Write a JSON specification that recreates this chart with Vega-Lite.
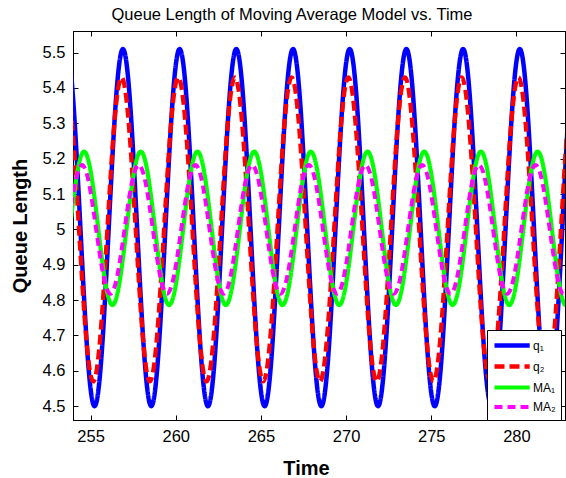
{
"$schema": "https://vega.github.io/schema/vega-lite/v6.json",
"width": 492, "height": 389,
"autosize": {"type": "none"},
"padding": {"left": 73, "top": 31, "right": 1, "bottom": 58},
"background": "white",
"title": {"text": "Queue Length of Moving Average Model vs. Time", "fontSize": 16.5, "font": "Liberation Sans", "fontWeight": "normal", "color": "black", "anchor": "middle", "dx": -27, "dy": 16, "offset": 10, "baseline": "alphabetic"},
"config": {
  "view": {"stroke": "black", "strokeWidth": 1},
  "axis": {"grid": false, "domainColor": "black", "tickColor": "black", "tickSize": -5, "labelFont": "Liberation Sans", "labelFontSize": 16.5, "labelColor": "black", "titleFont": "Liberation Sans", "titleFontSize": 20, "titleFontWeight": "bold", "titleColor": "black"}
},
"data": {"values": [
{"t":253.156,"v":5.362,"s":"q₁"},{"t":253.572,"v":5.51,"s":"q₁"},{"t":253.988,"v":5.362,"s":"q₁"},{"t":254.404,"v":5.005,"s":"q₁"},{"t":254.820,"v":4.648,"s":"q₁"},{"t":255.236,"v":4.5,"s":"q₁"},{"t":255.652,"v":4.648,"s":"q₁"},{"t":256.068,"v":5.005,"s":"q₁"},
{"t":256.484,"v":5.362,"s":"q₁"},{"t":256.900,"v":5.51,"s":"q₁"},{"t":257.316,"v":5.362,"s":"q₁"},{"t":257.732,"v":5.005,"s":"q₁"},{"t":258.148,"v":4.648,"s":"q₁"},{"t":258.564,"v":4.5,"s":"q₁"},{"t":258.980,"v":4.648,"s":"q₁"},{"t":259.396,"v":5.005,"s":"q₁"},
{"t":259.812,"v":5.362,"s":"q₁"},{"t":260.228,"v":5.51,"s":"q₁"},{"t":260.644,"v":5.362,"s":"q₁"},{"t":261.060,"v":5.005,"s":"q₁"},{"t":261.476,"v":4.648,"s":"q₁"},{"t":261.892,"v":4.5,"s":"q₁"},{"t":262.308,"v":4.648,"s":"q₁"},{"t":262.724,"v":5.005,"s":"q₁"},
{"t":263.140,"v":5.362,"s":"q₁"},{"t":263.556,"v":5.51,"s":"q₁"},{"t":263.972,"v":5.362,"s":"q₁"},{"t":264.388,"v":5.005,"s":"q₁"},{"t":264.804,"v":4.648,"s":"q₁"},{"t":265.220,"v":4.5,"s":"q₁"},{"t":265.636,"v":4.648,"s":"q₁"},{"t":266.052,"v":5.005,"s":"q₁"},
{"t":266.468,"v":5.362,"s":"q₁"},{"t":266.884,"v":5.51,"s":"q₁"},{"t":267.300,"v":5.362,"s":"q₁"},{"t":267.716,"v":5.005,"s":"q₁"},{"t":268.132,"v":4.648,"s":"q₁"},{"t":268.548,"v":4.5,"s":"q₁"},{"t":268.964,"v":4.648,"s":"q₁"},{"t":269.380,"v":5.005,"s":"q₁"},
{"t":269.796,"v":5.362,"s":"q₁"},{"t":270.212,"v":5.51,"s":"q₁"},{"t":270.628,"v":5.362,"s":"q₁"},{"t":271.044,"v":5.005,"s":"q₁"},{"t":271.460,"v":4.648,"s":"q₁"},{"t":271.876,"v":4.5,"s":"q₁"},{"t":272.292,"v":4.648,"s":"q₁"},{"t":272.708,"v":5.005,"s":"q₁"},
{"t":273.124,"v":5.362,"s":"q₁"},{"t":273.540,"v":5.51,"s":"q₁"},{"t":273.956,"v":5.362,"s":"q₁"},{"t":274.372,"v":5.005,"s":"q₁"},{"t":274.788,"v":4.648,"s":"q₁"},{"t":275.204,"v":4.5,"s":"q₁"},{"t":275.620,"v":4.648,"s":"q₁"},{"t":276.036,"v":5.005,"s":"q₁"},
{"t":276.452,"v":5.362,"s":"q₁"},{"t":276.868,"v":5.51,"s":"q₁"},{"t":277.284,"v":5.362,"s":"q₁"},{"t":277.700,"v":5.005,"s":"q₁"},{"t":278.116,"v":4.648,"s":"q₁"},{"t":278.532,"v":4.5,"s":"q₁"},{"t":278.948,"v":4.648,"s":"q₁"},{"t":279.364,"v":5.005,"s":"q₁"},
{"t":279.780,"v":5.362,"s":"q₁"},{"t":280.196,"v":5.51,"s":"q₁"},{"t":280.612,"v":5.362,"s":"q₁"},{"t":281.028,"v":5.005,"s":"q₁"},{"t":281.444,"v":4.648,"s":"q₁"},{"t":281.860,"v":4.5,"s":"q₁"},{"t":282.276,"v":4.648,"s":"q₁"},{"t":282.692,"v":5.005,"s":"q₁"},
{"t":283.108,"v":5.362,"s":"q₁"},{"t":283.524,"v":5.51,"s":"q₁"},

{"t":253.076,"v":5.304,"s":"q₂"},{"t":253.492,"v":5.43,"s":"q₂"},{"t":253.908,"v":5.304,"s":"q₂"},{"t":254.324,"v":5.0,"s":"q₂"},{"t":254.740,"v":4.696,"s":"q₂"},{"t":255.156,"v":4.57,"s":"q₂"},{"t":255.572,"v":4.696,"s":"q₂"},{"t":255.988,"v":5.0,"s":"q₂"},
{"t":256.404,"v":5.304,"s":"q₂"},{"t":256.820,"v":5.43,"s":"q₂"},{"t":257.236,"v":5.304,"s":"q₂"},{"t":257.652,"v":5.0,"s":"q₂"},{"t":258.068,"v":4.696,"s":"q₂"},{"t":258.484,"v":4.57,"s":"q₂"},{"t":258.900,"v":4.696,"s":"q₂"},{"t":259.316,"v":5.0,"s":"q₂"},
{"t":259.732,"v":5.304,"s":"q₂"},{"t":260.148,"v":5.43,"s":"q₂"},{"t":260.564,"v":5.304,"s":"q₂"},{"t":260.980,"v":5.0,"s":"q₂"},{"t":261.396,"v":4.696,"s":"q₂"},{"t":261.812,"v":4.57,"s":"q₂"},{"t":262.228,"v":4.696,"s":"q₂"},{"t":262.644,"v":5.0,"s":"q₂"},
{"t":263.060,"v":5.304,"s":"q₂"},{"t":263.476,"v":5.43,"s":"q₂"},{"t":263.892,"v":5.304,"s":"q₂"},{"t":264.308,"v":5.0,"s":"q₂"},{"t":264.724,"v":4.696,"s":"q₂"},{"t":265.140,"v":4.57,"s":"q₂"},{"t":265.556,"v":4.696,"s":"q₂"},{"t":265.972,"v":5.0,"s":"q₂"},
{"t":266.388,"v":5.304,"s":"q₂"},{"t":266.804,"v":5.43,"s":"q₂"},{"t":267.220,"v":5.304,"s":"q₂"},{"t":267.636,"v":5.0,"s":"q₂"},{"t":268.052,"v":4.696,"s":"q₂"},{"t":268.468,"v":4.57,"s":"q₂"},{"t":268.884,"v":4.696,"s":"q₂"},{"t":269.300,"v":5.0,"s":"q₂"},
{"t":269.716,"v":5.304,"s":"q₂"},{"t":270.132,"v":5.43,"s":"q₂"},{"t":270.548,"v":5.304,"s":"q₂"},{"t":270.964,"v":5.0,"s":"q₂"},{"t":271.380,"v":4.696,"s":"q₂"},{"t":271.796,"v":4.57,"s":"q₂"},{"t":272.212,"v":4.696,"s":"q₂"},{"t":272.628,"v":5.0,"s":"q₂"},
{"t":273.044,"v":5.304,"s":"q₂"},{"t":273.460,"v":5.43,"s":"q₂"},{"t":273.876,"v":5.304,"s":"q₂"},{"t":274.292,"v":5.0,"s":"q₂"},{"t":274.708,"v":4.696,"s":"q₂"},{"t":275.124,"v":4.57,"s":"q₂"},{"t":275.540,"v":4.696,"s":"q₂"},{"t":275.956,"v":5.0,"s":"q₂"},
{"t":276.372,"v":5.304,"s":"q₂"},{"t":276.788,"v":5.43,"s":"q₂"},{"t":277.204,"v":5.304,"s":"q₂"},{"t":277.620,"v":5.0,"s":"q₂"},{"t":278.036,"v":4.696,"s":"q₂"},{"t":278.452,"v":4.57,"s":"q₂"},{"t":278.868,"v":4.696,"s":"q₂"},{"t":279.284,"v":5.0,"s":"q₂"},
{"t":279.700,"v":5.304,"s":"q₂"},{"t":280.116,"v":5.43,"s":"q₂"},{"t":280.532,"v":5.304,"s":"q₂"},{"t":280.948,"v":5.0,"s":"q₂"},{"t":281.364,"v":4.696,"s":"q₂"},{"t":281.780,"v":4.57,"s":"q₂"},{"t":282.196,"v":4.696,"s":"q₂"},{"t":282.612,"v":5.0,"s":"q₂"},
{"t":283.028,"v":5.304,"s":"q₂"},{"t":283.444,"v":5.43,"s":"q₂"},

{"t":252.956,"v":4.786,"s":"MA₁"},{"t":253.372,"v":4.85,"s":"MA₁"},{"t":253.788,"v":5.003,"s":"MA₁"},{"t":254.204,"v":5.156,"s":"MA₁"},{"t":254.620,"v":5.22,"s":"MA₁"},{"t":255.036,"v":5.156,"s":"MA₁"},{"t":255.452,"v":5.003,"s":"MA₁"},{"t":255.868,"v":4.85,"s":"MA₁"},
{"t":256.284,"v":4.786,"s":"MA₁"},{"t":256.700,"v":4.85,"s":"MA₁"},{"t":257.116,"v":5.003,"s":"MA₁"},{"t":257.532,"v":5.156,"s":"MA₁"},{"t":257.948,"v":5.22,"s":"MA₁"},{"t":258.364,"v":5.156,"s":"MA₁"},{"t":258.780,"v":5.003,"s":"MA₁"},{"t":259.196,"v":4.85,"s":"MA₁"},
{"t":259.612,"v":4.786,"s":"MA₁"},{"t":260.028,"v":4.85,"s":"MA₁"},{"t":260.444,"v":5.003,"s":"MA₁"},{"t":260.860,"v":5.156,"s":"MA₁"},{"t":261.276,"v":5.22,"s":"MA₁"},{"t":261.692,"v":5.156,"s":"MA₁"},{"t":262.108,"v":5.003,"s":"MA₁"},{"t":262.524,"v":4.85,"s":"MA₁"},
{"t":262.940,"v":4.786,"s":"MA₁"},{"t":263.356,"v":4.85,"s":"MA₁"},{"t":263.772,"v":5.003,"s":"MA₁"},{"t":264.188,"v":5.156,"s":"MA₁"},{"t":264.604,"v":5.22,"s":"MA₁"},{"t":265.020,"v":5.156,"s":"MA₁"},{"t":265.436,"v":5.003,"s":"MA₁"},{"t":265.852,"v":4.85,"s":"MA₁"},
{"t":266.268,"v":4.786,"s":"MA₁"},{"t":266.684,"v":4.85,"s":"MA₁"},{"t":267.100,"v":5.003,"s":"MA₁"},{"t":267.516,"v":5.156,"s":"MA₁"},{"t":267.932,"v":5.22,"s":"MA₁"},{"t":268.348,"v":5.156,"s":"MA₁"},{"t":268.764,"v":5.003,"s":"MA₁"},{"t":269.180,"v":4.85,"s":"MA₁"},
{"t":269.596,"v":4.786,"s":"MA₁"},{"t":270.012,"v":4.85,"s":"MA₁"},{"t":270.428,"v":5.003,"s":"MA₁"},{"t":270.844,"v":5.156,"s":"MA₁"},{"t":271.260,"v":5.22,"s":"MA₁"},{"t":271.676,"v":5.156,"s":"MA₁"},{"t":272.092,"v":5.003,"s":"MA₁"},{"t":272.508,"v":4.85,"s":"MA₁"},
{"t":272.924,"v":4.786,"s":"MA₁"},{"t":273.340,"v":4.85,"s":"MA₁"},{"t":273.756,"v":5.003,"s":"MA₁"},{"t":274.172,"v":5.156,"s":"MA₁"},{"t":274.588,"v":5.22,"s":"MA₁"},{"t":275.004,"v":5.156,"s":"MA₁"},{"t":275.420,"v":5.003,"s":"MA₁"},{"t":275.836,"v":4.85,"s":"MA₁"},
{"t":276.252,"v":4.786,"s":"MA₁"},{"t":276.668,"v":4.85,"s":"MA₁"},{"t":277.084,"v":5.003,"s":"MA₁"},{"t":277.500,"v":5.156,"s":"MA₁"},{"t":277.916,"v":5.22,"s":"MA₁"},{"t":278.332,"v":5.156,"s":"MA₁"},{"t":278.748,"v":5.003,"s":"MA₁"},{"t":279.164,"v":4.85,"s":"MA₁"},
{"t":279.580,"v":4.786,"s":"MA₁"},{"t":279.996,"v":4.85,"s":"MA₁"},{"t":280.412,"v":5.003,"s":"MA₁"},{"t":280.828,"v":5.156,"s":"MA₁"},{"t":281.244,"v":5.22,"s":"MA₁"},{"t":281.660,"v":5.156,"s":"MA₁"},{"t":282.076,"v":5.003,"s":"MA₁"},{"t":282.492,"v":4.85,"s":"MA₁"},
{"t":282.908,"v":4.786,"s":"MA₁"},{"t":283.324,"v":4.85,"s":"MA₁"},

{"t":252.836,"v":4.818,"s":"MA₂"},{"t":253.252,"v":4.871,"s":"MA₂"},{"t":253.668,"v":5.0,"s":"MA₂"},{"t":254.084,"v":5.129,"s":"MA₂"},{"t":254.500,"v":5.182,"s":"MA₂"},{"t":254.916,"v":5.129,"s":"MA₂"},{"t":255.332,"v":5.0,"s":"MA₂"},{"t":255.748,"v":4.871,"s":"MA₂"},
{"t":256.164,"v":4.818,"s":"MA₂"},{"t":256.580,"v":4.871,"s":"MA₂"},{"t":256.996,"v":5.0,"s":"MA₂"},{"t":257.412,"v":5.129,"s":"MA₂"},{"t":257.828,"v":5.182,"s":"MA₂"},{"t":258.244,"v":5.129,"s":"MA₂"},{"t":258.660,"v":5.0,"s":"MA₂"},{"t":259.076,"v":4.871,"s":"MA₂"},
{"t":259.492,"v":4.818,"s":"MA₂"},{"t":259.908,"v":4.871,"s":"MA₂"},{"t":260.324,"v":5.0,"s":"MA₂"},{"t":260.740,"v":5.129,"s":"MA₂"},{"t":261.156,"v":5.182,"s":"MA₂"},{"t":261.572,"v":5.129,"s":"MA₂"},{"t":261.988,"v":5.0,"s":"MA₂"},{"t":262.404,"v":4.871,"s":"MA₂"},
{"t":262.820,"v":4.818,"s":"MA₂"},{"t":263.236,"v":4.871,"s":"MA₂"},{"t":263.652,"v":5.0,"s":"MA₂"},{"t":264.068,"v":5.129,"s":"MA₂"},{"t":264.484,"v":5.182,"s":"MA₂"},{"t":264.900,"v":5.129,"s":"MA₂"},{"t":265.316,"v":5.0,"s":"MA₂"},{"t":265.732,"v":4.871,"s":"MA₂"},
{"t":266.148,"v":4.818,"s":"MA₂"},{"t":266.564,"v":4.871,"s":"MA₂"},{"t":266.980,"v":5.0,"s":"MA₂"},{"t":267.396,"v":5.129,"s":"MA₂"},{"t":267.812,"v":5.182,"s":"MA₂"},{"t":268.228,"v":5.129,"s":"MA₂"},{"t":268.644,"v":5.0,"s":"MA₂"},{"t":269.060,"v":4.871,"s":"MA₂"},
{"t":269.476,"v":4.818,"s":"MA₂"},{"t":269.892,"v":4.871,"s":"MA₂"},{"t":270.308,"v":5.0,"s":"MA₂"},{"t":270.724,"v":5.129,"s":"MA₂"},{"t":271.140,"v":5.182,"s":"MA₂"},{"t":271.556,"v":5.129,"s":"MA₂"},{"t":271.972,"v":5.0,"s":"MA₂"},{"t":272.388,"v":4.871,"s":"MA₂"},
{"t":272.804,"v":4.818,"s":"MA₂"},{"t":273.220,"v":4.871,"s":"MA₂"},{"t":273.636,"v":5.0,"s":"MA₂"},{"t":274.052,"v":5.129,"s":"MA₂"},{"t":274.468,"v":5.182,"s":"MA₂"},{"t":274.884,"v":5.129,"s":"MA₂"},{"t":275.300,"v":5.0,"s":"MA₂"},{"t":275.716,"v":4.871,"s":"MA₂"},
{"t":276.132,"v":4.818,"s":"MA₂"},{"t":276.548,"v":4.871,"s":"MA₂"},{"t":276.964,"v":5.0,"s":"MA₂"},{"t":277.380,"v":5.129,"s":"MA₂"},{"t":277.796,"v":5.182,"s":"MA₂"},{"t":278.212,"v":5.129,"s":"MA₂"},{"t":278.628,"v":5.0,"s":"MA₂"},{"t":279.044,"v":4.871,"s":"MA₂"},
{"t":279.460,"v":4.818,"s":"MA₂"},{"t":279.876,"v":4.871,"s":"MA₂"},{"t":280.292,"v":5.0,"s":"MA₂"},{"t":280.708,"v":5.129,"s":"MA₂"},{"t":281.124,"v":5.182,"s":"MA₂"},{"t":281.540,"v":5.129,"s":"MA₂"},{"t":281.956,"v":5.0,"s":"MA₂"},{"t":282.372,"v":4.871,"s":"MA₂"},
{"t":282.788,"v":4.818,"s":"MA₂"},{"t":283.204,"v":4.871,"s":"MA₂"}
]},
"layer": [
  {
    "mark": {"type": "line", "interpolate": "natural", "clip": true},
    "encoding": {
      "x": {"field": "t", "type": "quantitative", "scale": {"domain": [253.97, 282.85], "nice": false, "zero": false},
            "axis": {"orient": "bottom", "values": [255, 260, 265, 270, 275, 280], "title": "Time", "labelPadding": 13, "titleX": 233, "titleY": 54, "titleBaseline": "alphabetic", "titleAlign": "center", "titleAnchor": null}},
      "y": {"field": "v", "type": "quantitative", "scale": {"domain": [4.461, 5.561], "nice": false, "zero": false},
            "axis": {"orient": "left", "values": [4.5, 4.6, 4.7, 4.8, 4.9, 5, 5.1, 5.2, 5.3, 5.4, 5.5], "format": "~g", "title": "Queue Length", "labelPadding": 13, "titlePadding": 12}},
      "color": {"field": "s", "type": "nominal",
                "scale": {"domain": ["q₁", "q₂", "MA₁", "MA₂"], "range": ["#0000ff", "#ff0000", "#00ff00", "#ff00ff"]},
                "legend": {"title": null, "orient": "none", "legendX": 414, "legendY": 299, "symbolType": "M-1,0H3.4", "symbolSize": 256, "symbolStrokeWidth": 3, "labelFont": "Liberation Sans", "labelFontSize": 12, "labelColor": "black", "labelOffset": 20, "rowPadding": 1, "padding": 5, "strokeColor": "black", "fillColor": "white"}},
      "strokeDash": {"field": "s", "type": "nominal",
                "scale": {"domain": ["q₁", "q₂", "MA₁", "MA₂"], "range": [[1, 0], [10, 5], [1, 0], [8, 5]]},
                "legend": {"title": null, "orient": "none", "legendX": 414, "legendY": 299, "symbolType": "M-1,0H3.4", "symbolSize": 256, "symbolStrokeWidth": 3, "labelFont": "Liberation Sans", "labelFontSize": 12, "labelColor": "black", "labelOffset": 20, "rowPadding": 1, "padding": 5, "strokeColor": "black", "fillColor": "white"}},
      "strokeWidth": {"field": "s", "type": "nominal", "scale": {"domain": ["q₁", "q₂", "MA₁", "MA₂"], "range": [4.5, 4, 3, 4]}, "legend": null}
    }
  },
  {
    "mark": {"type": "line", "opacity": 0, "clip": true},
    "encoding": {
      "x": {"field": "t", "type": "quantitative", "scale": {"domain": [253.97, 282.85], "nice": false, "zero": false},
            "axis": {"orient": "top", "values": [255, 260, 265, 270, 275, 280], "labels": false, "title": null}},
      "y": {"field": "v", "type": "quantitative", "scale": {"domain": [4.461, 5.561], "nice": false, "zero": false},
            "axis": {"orient": "right", "values": [4.5, 4.6, 4.7, 4.8, 4.9, 5, 5.1, 5.2, 5.3, 5.4, 5.5], "labels": false, "title": null}}
    }
  }
],
"resolve": {"axis": {"x": "independent", "y": "independent"}}
}
